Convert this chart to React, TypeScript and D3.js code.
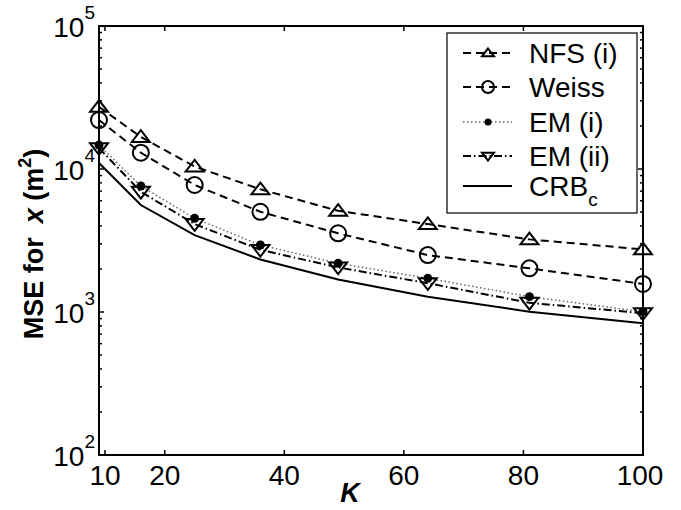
import React from "react";
import * as d3 from "d3";

const K = [9, 16, 25, 36, 49, 64, 81, 100];
const nfs = [27200, 16750, 10400, 7210, 5100, 4120, 3220, 2740];
const weiss = [22000, 13000, 7730, 5020, 3550, 2500, 2020, 1570];
const emI = [14700, 7600, 4520, 2940, 2190, 1720, 1280, 1005];
const emII = [14000, 6930, 4120, 2720, 2050, 1590, 1160, 980];
const crb = [11000, 5600, 3450, 2330, 1690, 1280, 1005, 834];
const xTicks = [10, 20, 40, 60, 80, 100];
const yExps = [2, 3, 4, 5];
const legendLabels = ["NFS (i)", "Weiss", "EM (i)", "EM (ii)", "CRB"];

const W = 681, H = 510;
const L = 99, R = 643, T = 26, B = 455;
const FONT = "'Liberation Sans', Arial, sans-serif";

export default function App() {
  const x = d3.scaleLinear().domain([9, 100]).range([L, R]);
  const y = d3.scaleLog().domain([100, 100000]).range([B, T]);
  const line = (vals: number[]) =>
    d3.line<number>().x((_, i) => x(K[i])).y((v) => y(v))(vals) || "";

  const minor: number[] = [];
  for (let e = 2; e < 5; e++) for (let m = 2; m <= 9; m++) minor.push(m * Math.pow(10, e));

  const triUp = (cx: number, cy: number, s: number) =>
    `M${cx},${cy - s * 0.75}L${cx + s},${cy + s * 0.55}L${cx - s},${cy + s * 0.55}Z`;
  const triDown = (cx: number, cy: number, s: number) =>
    `M${cx},${cy + s * 0.75}L${cx + s},${cy - s * 0.55}L${cx - s},${cy - s * 0.55}Z`;

  const series = [
    { vals: nfs, dash: "8,5", w: 2, color: "#000", marker: "up" },
    { vals: weiss, dash: "8,5", w: 2, color: "#000", marker: "circle" },
    { vals: emI, dash: "1.5,2.5", w: 1.5, color: "#666", marker: "dot" },
    { vals: emII, dash: "8,3,1.5,3", w: 2, color: "#000", marker: "down" },
    { vals: crb, dash: "", w: 2, color: "#000", marker: "none" },
  ];

  const drawMarker = (kind: string, cx: number, cy: number, key: string, small = false) => {
    const s = small ? 6 : 9;
    if (kind === "up") return <path key={key} d={triUp(cx, cy, s)} fill="none" stroke="#000" strokeWidth={2} />;
    if (kind === "down") return <path key={key} d={triDown(cx, cy, s)} fill="none" stroke="#000" strokeWidth={2} />;
    if (kind === "circle") return <circle key={key} cx={cx} cy={cy} r={small ? 6 : 8} fill="none" stroke="#000" strokeWidth={2} />;
    if (kind === "dot") return <circle key={key} cx={cx} cy={cy} r={small ? 3.5 : 4.5} fill="#000" />;
    return null;
  };

  const legX0 = 447, legY0 = 33, legX1 = 637, legY1 = 213;
  const legRows = [53, 87, 122, 156, 186];

  return (
    <svg width={W} height={H} style={{ position: "absolute", left: 0, top: 0, background: "#fff" }}>
      <rect x={0} y={0} width={W} height={H} fill="#fff" />
      {series.map((s, i) => (
        <path key={"l" + i} d={line(s.vals)} fill="none" stroke={s.color} strokeWidth={s.w} strokeDasharray={s.dash || undefined} />
      ))}
      {series.map((s, i) =>
        s.vals.map((v, j) => drawMarker(s.marker, x(K[j]), y(v), `m${i}-${j}`))
      )}
      <rect x={L} y={T} width={R - L} height={B - T} fill="none" stroke="#000" strokeWidth={2} />
      {xTicks.map((t) => (
        <g key={"xt" + t}>
          <line x1={x(t)} x2={x(t)} y1={B} y2={B - 5} stroke="#000" strokeWidth={1.5} />
          <line x1={x(t)} x2={x(t)} y1={T} y2={T + 5} stroke="#000" strokeWidth={1.5} />
          <text x={x(t) - (t === 100 ? 3 : 0)} y={485} textAnchor="middle" fontFamily={FONT} fontSize={28}>{t}</text>
        </g>
      ))}
      {yExps.map((e) => {
        const yy = y(Math.pow(10, e));
        return (
          <g key={"yt" + e}>
            <line x1={L} x2={L + 5} y1={yy} y2={yy} stroke="#000" strokeWidth={1.5} />
            <line x1={R} x2={R - 5} y1={yy} y2={yy} stroke="#000" strokeWidth={1.5} />
            <text x={95} y={yy + 11} textAnchor="end" fontFamily={FONT} fontSize={28}>
              10<tspan dy={-18} fontSize={19}>{e}</tspan>
            </text>
          </g>
        );
      })}
      {minor.map((m) => (
        <g key={"mn" + m}>
          <line x1={L} x2={L + 3} y1={y(m)} y2={y(m)} stroke="#000" strokeWidth={1.5} />
          <line x1={R} x2={R - 3} y1={y(m)} y2={y(m)} stroke="#000" strokeWidth={1.5} />
        </g>
      ))}
      <text x={350} y={502} textAnchor="middle" fontFamily={FONT} fontSize={27} fontWeight="bold" fontStyle="italic">K</text>
      <text transform="translate(43,244) rotate(-90)" textAnchor="middle" fontFamily={FONT} fontSize={27} fontWeight="bold">
        MSE for<tspan dx={14} fontStyle="italic">x</tspan> (m<tspan dy={-12} fontSize={18}>2</tspan><tspan dy={12}>)</tspan>
      </text>
      <rect x={legX0} y={legY0} width={legX1 - legX0} height={legY1 - legY0} fill="#fff" stroke="#000" strokeWidth={1.2} />
      {series.map((s, i) => (
        <g key={"lg" + i}>
          <line x1={463} x2={512} y1={legRows[i]} y2={legRows[i]} stroke={s.color} strokeWidth={s.w} strokeDasharray={s.dash || undefined} />
          {drawMarker(s.marker, 488, legRows[i], "lm" + i, true)}
          <text x={529} y={legRows[i] + 10} fontFamily={FONT} fontSize={28}>
            {legendLabels[i]}
            {i === 4 ? <tspan dy={10} fontSize={19}>c</tspan> : null}
          </text>
        </g>
      ))}
    </svg>
  );
}
